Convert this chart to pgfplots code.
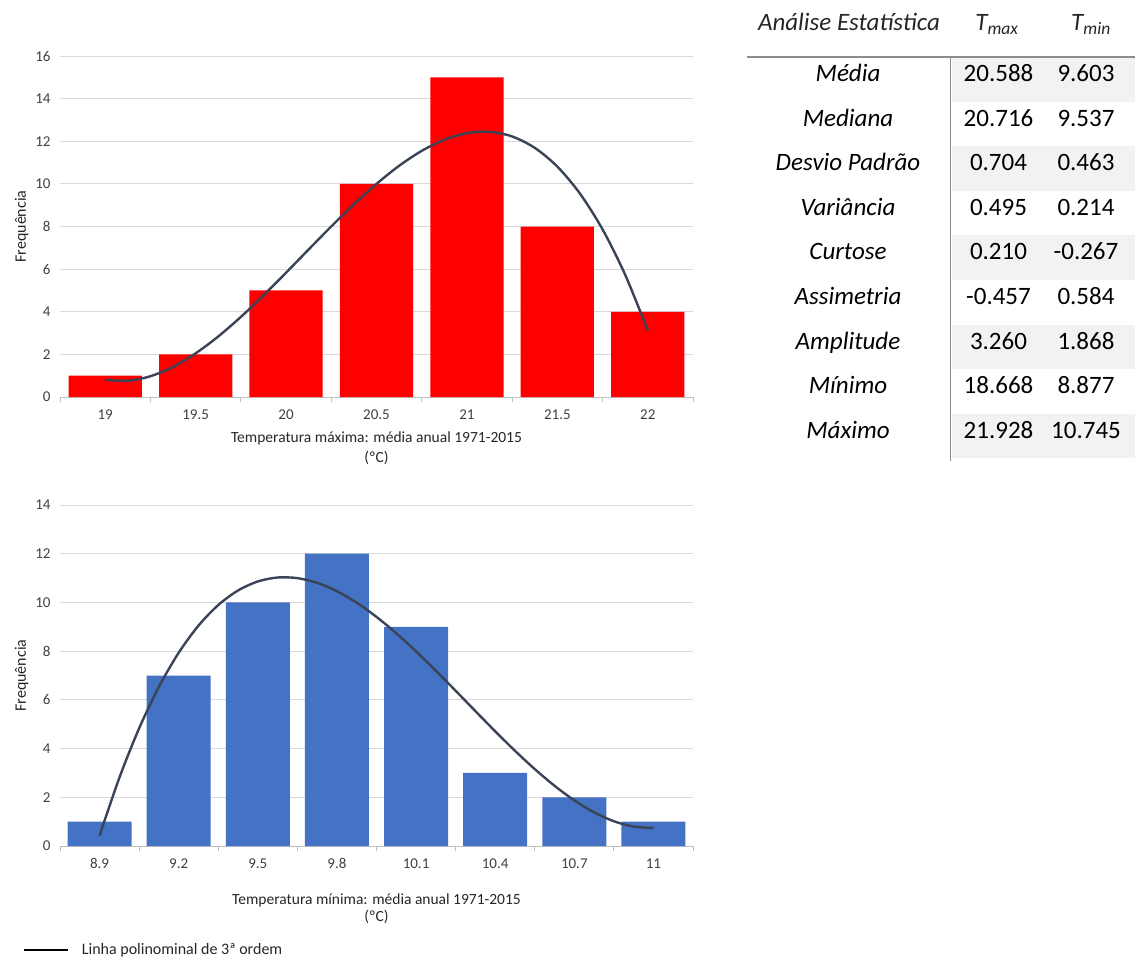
\documentclass[border=0pt]{standalone}
\usepackage{fontspec}
\setmainfont{Carlito}
\usepackage{pgfplots}
\pgfplotsset{compat=1.18}
\definecolor{barred}{HTML}{FF0000}
\definecolor{barblue}{HTML}{4472C4}
\definecolor{trend}{HTML}{3A4456}
\definecolor{gridc}{HTML}{D9D9D9}
\definecolor{axc}{HTML}{BFBFBF}
\definecolor{rowshade}{HTML}{F2F2F2}
\definecolor{tickc}{HTML}{404040}
\definecolor{labc}{HTML}{262626}
\definecolor{tabline}{HTML}{8C8C8C}
\pgfplotsset{hist/.style={
  scale only axis, width=633pt, height=341pt, anchor=south west,
  axis x line*=bottom, axis y line*=left,
  y axis line style={draw=none},
  x axis line style={draw=axc, line width=0.8pt},
  major tick length=0pt,
  minor tick length=5pt,
  minor x tick style={draw=axc, line width=0.8pt},
  tick align=outside,
  ymajorgrids, major grid style={draw=gridc, line width=0.8pt},
  tick label style={font=\fontsize{15}{17}\selectfont, text=tickc, /pgf/number format/assume math mode=true},
  xticklabel style={yshift=-9pt},
  yticklabel style={xshift=-6pt},
  xlabel style={font=\fontsize{15.5}{20}\selectfont, text=labc, align=center, yshift=-5pt},
  ylabel style={font=\fontsize{16}{18}\selectfont, text=labc},
  ylabel={Frequência},
  clip=false,
}}
\newcommand{\tabfont}{\fontsize{25}{28}\selectfont}
\begin{document}
\begin{tikzpicture}
\path[use as bounding box] (0pt,0pt) rectangle (1135pt,-958pt);
% ---------- top histogram
\begin{axis}[hist, at={(60pt,-397pt)},
  xmin=-0.5, xmax=6.5, ymin=0, ymax=16, ytick={0,2,...,16},
  xtick={0,...,6}, xticklabels={19,19.5,20,20.5,21,21.5,22},
  minor xtick={-0.5,0.5,...,6.5},
  xlabel={Temperatura máxima: média anual 1971-2015\\(ºC)}]
\addplot[ybar, bar width=0.81, fill=barred, draw=none] coordinates {
 (0,1) (1,2) (2,5) (3,10) (4,15) (5,8) (6,4)};
\addplot[trend, line width=2.4pt, smooth] coordinates {
 (0,0.809) (0.25,0.761) (0.5,0.974) (0.75,1.414) (1,2.048) (1.25,2.840)
 (1.5,3.757) (1.75,4.767) (2,5.833) (2.25,6.924) (2.5,8.004) (2.75,9.041)
 (3,10.000) (3.25,10.847) (3.5,11.549) (3.75,12.072) (4,12.381) (4.25,12.443)
 (4.5,12.225) (4.75,11.691) (5,10.810) (5.25,9.545) (5.5,7.864) (5.75,5.734) (6,3.119)};
\end{axis}
% ---------- bottom histogram
\begin{axis}[hist, at={(60pt,-846pt)},
  xmin=-0.5, xmax=7.5, ymin=0, ymax=14, ytick={0,2,...,14},
  xtick={0,...,7}, xticklabels={8.9,9.2,9.5,9.8,10.1,10.4,10.7,11},
  minor xtick={-0.5,0.5,...,7.5},
  xlabel={Temperatura mínima: média anual 1971-2015\\[-3pt](ºC)},
  xlabel style={yshift=-13pt},
  legend style={at={(-0.063,-0.305)}, anchor=west, draw=none, fill=none,
    font=\fontsize{16}{18}\selectfont, text=labc}, legend cell align=left]
\addplot[ybar, bar width=0.81, fill=barblue, draw=none, forget plot] coordinates {
 (0,1) (1,7) (2,10) (3,12) (4,9) (5,3) (6,2) (7,1)};
\addplot[trend, line width=2.4pt, smooth,
  legend image code/.code={\draw[black, line width=1.6pt] (0pt,0pt) -- (44pt,0pt);}] coordinates {
 (0,0.424) (0.25,2.801) (0.5,4.831) (0.75,6.536) (1,7.935) (1.25,9.047)
 (1.5,9.893) (1.75,10.491) (2,10.861) (2.25,11.024) (2.5,10.998) (2.75,10.804)
 (3,10.461) (3.25,9.988) (3.5,9.406) (3.75,8.734) (4,7.991) (4.25,7.198)
 (4.5,6.374) (4.75,5.538) (5,4.710) (5.25,3.910) (5.5,3.158) (5.75,2.473)
 (6,1.874) (6.25,1.383) (6.5,1.017) (6.75,0.797) (7,0.742)};
\addlegendentry{\hspace{11pt}Linha polinominal de 3ª ordem}
\end{axis}
% ---------- statistics table
\foreach \k in {0,2,4,6,8} {
  \fill[rowshade] (951.5pt,{-57pt-\k*44.6pt}) rectangle (1135pt,{-57pt-(\k+1)*44.6pt});
}
\draw[tabline, line width=1.5pt] (747pt,-57pt) -- (1135pt,-57pt);
\draw[tabline, line width=1.2pt] (950.5pt,-57pt) -- (950.5pt,-461pt);
\node[anchor=base, font=\tabfont\itshape, text=labc] at (849pt,-31pt) {Análise Estatística};
\node[anchor=base, font=\tabfont\itshape, text=labc] at (997pt,-31pt) {T\textsubscript{max}};
\node[anchor=base, font=\tabfont\itshape, text=labc] at (1091pt,-31pt) {T\textsubscript{min}};
\foreach \lab/\va/\vb [count=\i from 0] in {
  Média/20.588/9.603, Mediana/20.716/9.537, Desvio Padrão/0.704/0.463,
  Variância/0.495/0.214, Curtose/0.210/-0.267, Assimetria/-0.457/0.584,
  Amplitude/3.260/1.868, Mínimo/18.668/8.877, Máximo/21.928/10.745} {
  \node[anchor=base, font=\tabfont\itshape, text=black] at (848pt,{-81.7pt-\i*44.55pt}) {\lab};
  \node[anchor=base, font=\tabfont, text=black] at (998.5pt,{-81.7pt-\i*44.55pt}) {\va};
  \node[anchor=base, font=\tabfont, text=black] at (1086pt,{-81.7pt-\i*44.55pt}) {\vb};
}
\end{tikzpicture}
\end{document}
